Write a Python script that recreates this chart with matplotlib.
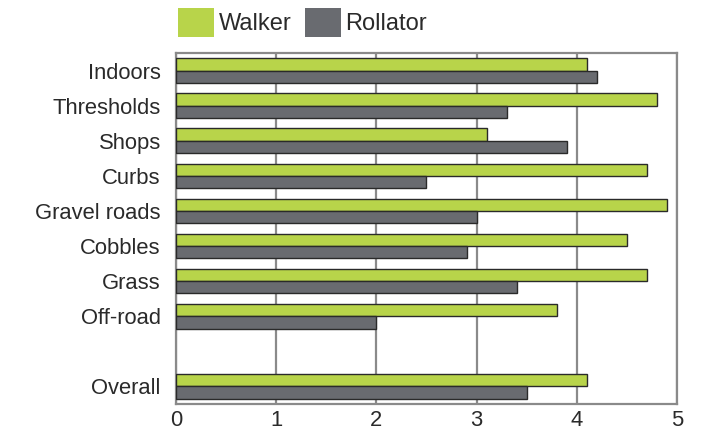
import matplotlib.pyplot as plt
from matplotlib.patches import Patch
import numpy as np

categories = ['Indoors', 'Thresholds', 'Shops', 'Curbs', 'Gravel roads',
              'Cobbles', 'Grass', 'Off-road', '', 'Overall']
walker = [4.1, 4.8, 3.1, 4.7, 4.9, 4.5, 4.7, 3.8, None, 4.1]
rollator = [4.2, 3.3, 3.9, 2.5, 3.0, 2.9, 3.4, 2.0, None, 3.5]

green = '#b8d44a'
grey = '#696b70'
edge = '#2a2a2a'
text_col = '#2a2a2a'

plt.rcParams['font.family'] = ['Liberation Sans', 'DejaVu Sans']

fig = plt.figure(figsize=(7.14, 4.33), dpi=100)
ax = fig.add_axes([0.2465, 0.067, 0.7015, 0.8107])

y = np.arange(len(categories))
h = 0.35
idx = [i for i, v in enumerate(walker) if v is not None]
ax.barh(y[idx] - h / 2, [walker[i] for i in idx], height=h, color=green,
        edgecolor=edge, linewidth=1, zorder=3)
ax.barh(y[idx] + h / 2, [rollator[i] for i in idx], height=h, color=grey,
        edgecolor=edge, linewidth=1, zorder=3)

ax.set_xlim(0, 5)
ax.set_ylim(len(categories) - 0.5, -0.5)
ax.set_xticks(range(6))
ax.set_yticks(y)
ax.set_yticklabels(categories)
ax.tick_params(length=0, labelsize=15.8, colors=text_col)
ax.tick_params(axis='y', pad=11)
ax.tick_params(axis='x', pad=4)
ax.xaxis.grid(True, color='#8a8a8a', linewidth=1.6, zorder=0)
for s in ax.spines.values():
    s.set_color('#8a8a8a')
    s.set_linewidth(1.6)

handles = [Patch(facecolor=green, edgecolor='none', label='Walker'),
           Patch(facecolor=grey, edgecolor='none', label='Rollator')]
fig.legend(handles=handles, loc='upper left', bbox_to_anchor=(0.22, 1.03),
           ncol=2, frameon=False, fontsize=17, handlelength=1.5,
           handleheight=1.5, handletextpad=0.2, columnspacing=0.6,
           labelcolor=text_col)

fig.savefig('out.png', dpi=100)
